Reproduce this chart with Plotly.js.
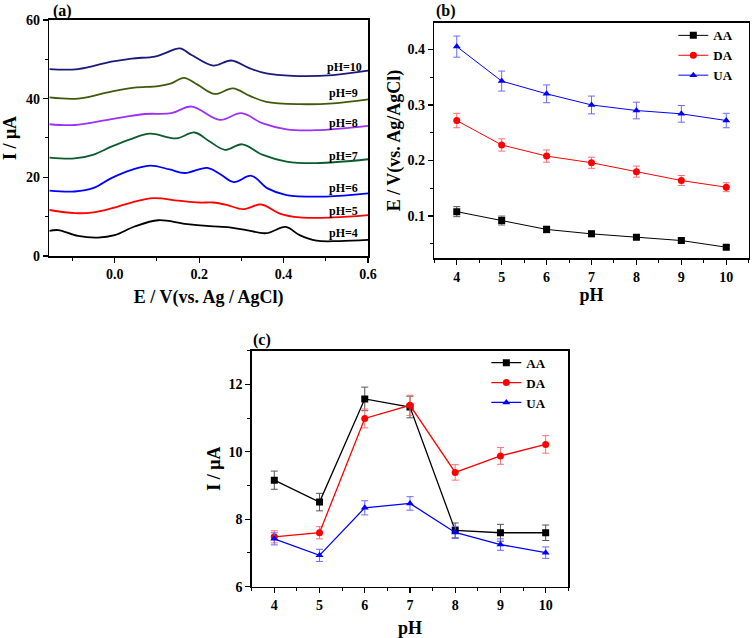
<!DOCTYPE html>
<html>
<head>
<meta charset="utf-8">
<script src="https://cdn.plot.ly/plotly-3.0.1.min.js"></script>
<style>html,body{margin:0;padding:0;background:#fff}#chart{width:754px;height:638px}</style>
</head>
<body>
<div id="chart"></div>
<script>
// ---------- Panel (a): DPV curves at different pH ----------
const curveNames = ['pH=4', 'pH=5', 'pH=6', 'pH=7', 'pH=8', 'pH=9', 'pH=10'];
const curveColors = ['#000000', '#ff0000', '#0000ff', '#0b5c2c', '#9b30ff', '#3f5a0c', '#1a1a7a'];

const pH4_E = [-0.155, -0.134, -0.087, -0.040, 0.000, 0.047, 0.103, 0.166, 0.225, 0.272, 0.312, 0.359, 0.405, 0.438, 0.478, 0.533, 0.600];
const pH4_I = [6.4, 6.6, 5.1, 4.7, 5.3, 7.5, 9.1, 8.2, 7.6, 7.3, 6.6, 5.8, 7.4, 5.3, 3.9, 3.8, 4.1];

const pH5_E = [-0.155, -0.095, -0.050, -0.008, 0.040, 0.091, 0.150, 0.200, 0.233, 0.265, 0.304, 0.347, 0.391, 0.438, 0.517, 0.600];
const pH5_I = [11.7, 10.9, 11.1, 12.1, 13.6, 14.7, 14.1, 13.6, 13.6, 13.0, 11.9, 13.1, 10.8, 9.8, 9.8, 10.4];

const pH6_E = [-0.155, -0.095, -0.050, -0.008, 0.040, 0.085, 0.130, 0.166, 0.219, 0.250, 0.282, 0.324, 0.362, 0.407, 0.501, 0.600];
const pH6_I = [16.6, 16.4, 17.3, 19.8, 21.9, 23.0, 22.0, 21.1, 22.4, 20.8, 18.8, 20.4, 17.2, 15.5, 15.1, 15.9];

const pH7_E = [-0.155, -0.095, -0.050, -0.008, 0.040, 0.083, 0.146, 0.189, 0.225, 0.261, 0.302, 0.351, 0.407, 0.478, 0.600];
const pH7_I = [25.0, 24.8, 25.8, 27.8, 29.8, 31.1, 29.9, 31.4, 29.1, 27.0, 28.4, 25.7, 24.0, 23.6, 24.6];

const pH8_E = [-0.155, -0.095, -0.008, 0.071, 0.134, 0.182, 0.249, 0.300, 0.351, 0.407, 0.478, 0.600];
const pH8_I = [33.5, 33.3, 34.8, 36.1, 36.3, 38.0, 34.6, 36.3, 33.7, 32.2, 32.0, 33.1];

const pH9_E = [-0.155, -0.087, -0.008, 0.047, 0.103, 0.134, 0.164, 0.197, 0.237, 0.280, 0.320, 0.359, 0.438, 0.517, 0.600];
const pH9_I = [40.3, 40.0, 41.8, 42.8, 43.2, 43.9, 45.3, 43.5, 41.2, 42.6, 40.7, 39.2, 38.6, 38.8, 39.8];

const pH10_E = [-0.155, -0.087, -0.008, 0.040, 0.095, 0.118, 0.154, 0.182, 0.233, 0.276, 0.320, 0.359, 0.422, 0.517, 0.600];
const pH10_I = [47.5, 47.5, 49.4, 50.2, 50.7, 51.5, 52.8, 51.1, 48.4, 49.7, 47.7, 46.4, 45.8, 46.0, 47.1];

const labelE = [0.502, 0.502, 0.502, 0.502, 0.502, 0.502, 0.497];
const labelI = [5.8, 11.5, 17.2, 25.4, 33.9, 41.4, 48.1];

// ---------- Panels (b) and (c) ----------
const pH = [4, 5, 6, 7, 8, 9, 10];

const b_AA = [0.108, 0.092, 0.076, 0.068, 0.062, 0.056, 0.044];
const b_AA_err = [0.009, 0.008, 0.006, 0.005, 0.004, 0.004, 0.003];
const b_DA = [0.272, 0.228, 0.208, 0.196, 0.180, 0.164, 0.152];
const b_DA_err = [0.013, 0.011, 0.011, 0.010, 0.010, 0.009, 0.008];
const b_UA = [0.405, 0.343, 0.320, 0.300, 0.290, 0.284, 0.272];
const b_UA_err = [0.019, 0.018, 0.016, 0.016, 0.015, 0.015, 0.013];

const c_AA = [9.16, 8.51, 11.57, 11.33, 7.67, 7.60, 7.60];
const c_AA_err = [0.27, 0.26, 0.35, 0.32, 0.22, 0.25, 0.23];
const c_DA = [7.48, 7.60, 10.99, 11.38, 9.39, 9.88, 10.22];
const c_DA_err = [0.18, 0.18, 0.28, 0.30, 0.23, 0.25, 0.26];
const c_UA = [7.42, 6.93, 8.34, 8.47, 7.61, 7.25, 7.01];
const c_UA_err = [0.18, 0.18, 0.21, 0.20, 0.18, 0.17, 0.17];

const seriesNames = ['AA', 'DA', 'UA'];
const seriesColors = ['#000000', '#ff0000', '#0000ff'];
const errColors = ['#555555', '#ff7070', '#6a6aff'];
const seriesSymbols = ['square', 'circle', 'triangle-up'];

const FONT = 'Liberation Serif, Times New Roman, serif';

const traces = [];
const curvesE = [pH4_E, pH5_E, pH6_E, pH7_E, pH8_E, pH9_E, pH10_E];
const curvesI = [pH4_I, pH5_I, pH6_I, pH7_I, pH8_I, pH9_I, pH10_I];
for (let i = 0; i < curveNames.length; i++) {
  traces.push({
    x: curvesE[i], y: curvesI[i], name: curveNames[i], type: 'scatter', mode: 'lines',
    line: {color: curveColors[i], width: 1.8, shape: 'spline', smoothing: 1},
    xaxis: 'x', yaxis: 'y', showlegend: false, hoverinfo: 'skip'
  });
}

const bVals = [b_AA, b_DA, b_UA], bErrs = [b_AA_err, b_DA_err, b_UA_err];
const cVals = [c_AA, c_DA, c_UA], cErrs = [c_AA_err, c_DA_err, c_UA_err];
for (let i = 0; i < 3; i++) {
  traces.push({
    x: pH, y: bVals[i], name: seriesNames[i], type: 'scatter', mode: 'lines+markers',
    line: {color: seriesColors[i], width: 1},
    marker: {symbol: seriesSymbols[i], size: 7, color: seriesColors[i]},
    error_y: {type: 'data', array: bErrs[i], visible: true, color: errColors[i], thickness: 1, width: 3.5},
    xaxis: 'x2', yaxis: 'y2', legend: 'legend'
  });
}
for (let i = 0; i < 3; i++) {
  traces.push({
    x: pH, y: cVals[i], name: seriesNames[i], type: 'scatter', mode: 'lines+markers',
    line: {color: seriesColors[i], width: 1.3},
    marker: {symbol: seriesSymbols[i], size: 7, color: seriesColors[i]},
    error_y: {type: 'data', array: cErrs[i], visible: true, color: errColors[i], thickness: 1, width: 3.5},
    xaxis: 'x3', yaxis: 'y3', legend: 'legend2'
  });
}

function axis(opts) {
  return Object.assign({
    showline: true, linecolor: '#000', linewidth: 1.5, mirror: true,
    ticks: 'outside', ticklen: 5, tickwidth: 1.3, tickcolor: '#000',
    showgrid: false, zeroline: false, fixedrange: true,
    tickfont: {family: FONT, size: 14, color: '#000', weight: 'bold'}
  }, opts);
}
function minor(d, t0) {
  return {ticks: 'outside', ticklen: 3, tickwidth: 1, tickcolor: '#000', dtick: d, tick0: t0, showgrid: false};
}
const titleFont = {family: FONT, size: 18, color: '#000', weight: 'bold'};

const layout = {
  width: 754, height: 638,
  margin: {l: 0, r: 0, t: 0, b: 0},
  paper_bgcolor: '#fff', plot_bgcolor: '#fff',
  font: {family: FONT, color: '#000'},
  xaxis: axis({domain: [0.0654, 0.4881], range: [-0.155, 0.6], anchor: 'y', tick0: 0, dtick: 0.2, tickformat: '.1f',
    minor: minor(0.1, 0), title: {text: 'E / V(vs. Ag / AgCl)', font: titleFont, standoff: 9}}),
  yaxis: axis({domain: [0.5987, 0.9687], range: [0, 60], anchor: 'x', tick0: 0, dtick: 20,
    minor: minor(10, 0), title: {text: 'I / μA', font: titleFont, standoff: 4}}),
  xaxis2: axis({domain: [0.576, 0.993], range: [3.5, 10.5], anchor: 'y2', tick0: 0, dtick: 1,
    minor: minor(0.5, 0), title: {text: 'pH', font: titleFont, standoff: 5}}),
  yaxis2: axis({domain: [0.5951, 0.9644], range: [0.024, 0.448], anchor: 'x2', dtick: 0.1, tick0: 0, tickformat: '.1f',
    minor: minor(0.05, 0), title: {text: 'E / V(vs. Ag/AgCl)', font: titleFont, standoff: 2}}),
  xaxis3: axis({domain: [0.3338, 0.7537], range: [3.5, 10.5], anchor: 'y3', tick0: 0, dtick: 1,
    minor: minor(0.5, 0), title: {text: 'pH', font: titleFont, standoff: 9}}),
  yaxis3: axis({domain: [0.0804, 0.4503], range: [6, 13], anchor: 'x3', tick0: 0, dtick: 2,
    minor: minor(1, 0), title: {text: 'I / μA', font: titleFont, standoff: 3}}),
  legend: {x: 0.893, y: 0.968, xanchor: 'left', yanchor: 'top', bgcolor: 'rgba(0,0,0,0)', borderwidth: 0,
    font: {family: FONT, size: 13, color: '#000', weight: 'bold'}, tracegroupgap: 0, itemwidth: 30},
  legend2: {x: 0.645, y: 0.455, xanchor: 'left', yanchor: 'top', bgcolor: 'rgba(0,0,0,0)', borderwidth: 0,
    font: {family: FONT, size: 13, color: '#000', weight: 'bold'}, tracegroupgap: 0, itemwidth: 30},
  annotations: []
};

const panelLabels = [['(a)', 0.068, 1.0], ['(b)', 0.575, 1.0], ['(c)', 0.333, 0.484]];
panelLabels.forEach(p => layout.annotations.push({
  text: p[0], xref: 'paper', yref: 'paper', x: p[1], y: p[2], xanchor: 'left', yanchor: 'top',
  showarrow: false, font: {family: FONT, size: 16, color: '#000', weight: 'bold'}
}));
for (let i = 0; i < curveNames.length; i++) {
  layout.annotations.push({
    text: curveNames[i], xref: 'x', yref: 'y', x: labelE[i], y: labelI[i], xanchor: 'left', yanchor: 'middle',
    showarrow: false, font: {family: FONT, size: 12, color: '#000', weight: 'bold'}
  });
}

Plotly.newPlot('chart', traces, layout, {displayModeBar: false, staticPlot: true});
</script>
</body>
</html>
